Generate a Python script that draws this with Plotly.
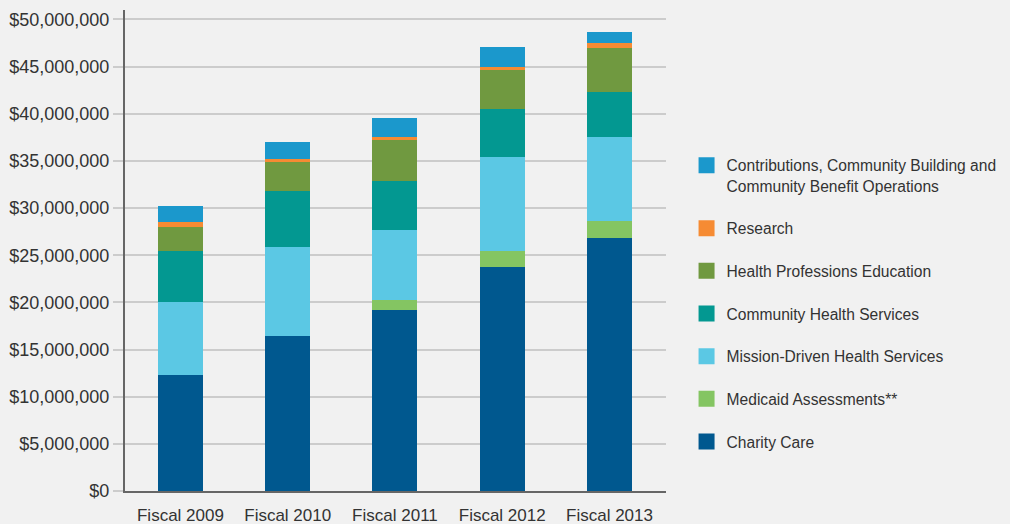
import plotly.graph_objects as go

years = ["Fiscal 2009", "Fiscal 2010", "Fiscal 2011", "Fiscal 2012", "Fiscal 2013"]

# values in millions of dollars
charity_care = [12.34, 16.48, 19.23, 23.79, 26.86]
medicaid_assessments = [0.0, 0.0, 1.06, 1.69, 1.80]
mission_driven = [7.74, 9.43, 7.42, 9.96, 8.90]
community_health = [5.35, 5.93, 5.19, 5.09, 4.77]
health_prof_edu = [2.56, 3.07, 4.27, 4.13, 4.64]
research = [0.53, 0.29, 0.32, 0.32, 0.48]
contributions = [1.70, 1.83, 2.09, 2.12, 1.24]

series = [
    ("Charity Care", charity_care, "#00588f"),
    ("Medicaid Assessments**", medicaid_assessments, "#84c562"),
    ("Mission-Driven Health Services", mission_driven, "#5bc8e4"),
    ("Community Health Services", community_health, "#039891"),
    ("Health Professions Education", health_prof_edu, "#709940"),
    ("Research", research, "#f68b33"),
    ("Contributions, Community Building and<br>Community Benefit Operations", contributions, "#1b98cc"),
]

FONT = "Liberation Sans, Arial, sans-serif"
TXT = "#333333"
BG = "#f1f1f1"

fig = go.Figure()
for name, vals, color in series:
    fig.add_trace(go.Bar(
        x=years, y=[v * 1e6 for v in vals], name=name,
        marker=dict(color=color, line=dict(width=0)),
        width=0.42, showlegend=False,
    ))

# legend proxies (top to bottom)
for i, (name, vals, color) in enumerate(reversed(series)):
    fig.add_trace(go.Scatter(
        x=[None], y=[None], mode="markers", name=name,
        marker=dict(symbol="square", size=18, color=color),
        legendgroup=f"g{i}", showlegend=True,
    ))

fig.update_layout(
    width=1010, height=524,
    barmode="stack",
    paper_bgcolor=BG,
    plot_bgcolor=BG,
    margin=dict(l=125, r=344, t=10, b=32.5, autoexpand=False),
    font=dict(family=FONT, size=17, color=TXT),
    showlegend=True,
    legend=dict(
        x=1.038, xanchor="left", y=0.712, yanchor="top",
        traceorder="grouped", tracegroupgap=19.4, valign="top",
        font=dict(family=FONT, size=15.6, color=TXT),
        bgcolor="rgba(0,0,0,0)", itemsizing="trace",
    ),
)
fig.update_xaxes(
    type="category", range=[-0.517, 4.527],
    showline=True, linecolor="#666666", linewidth=2,
    ticks="", showgrid=False, automargin=False,
    ticklabelstandoff=8,
    tickfont=dict(family=FONT, size=17, color=TXT),
)
fig.update_yaxes(
    range=[0, 51e6], dtick=5e6, tick0=0,
    tickprefix="$", tickformat=",.0f",
    showline=True, linecolor="#666666", linewidth=2,
    showgrid=True, gridcolor="#cccccc", gridwidth=2,
    ticks="outside", ticklen=10, tickcolor="#cccccc", tickwidth=2,
    zeroline=False, automargin=False,
    tickfont=dict(family=FONT, size=18, color=TXT),
)

fig.write_html(
    "out.html",
    config={"displayModeBar": False},
    post_script="document.body.style.margin='0';document.body.style.background='#f1f1f1';document.body.style.overflow='hidden';",
)
